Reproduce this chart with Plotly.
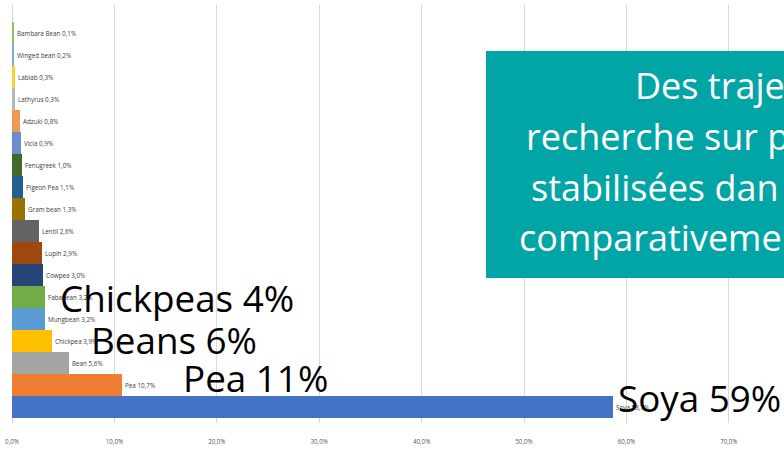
import plotly.graph_objects as go

# Share of research effort by legume crop (%), bottom bar first
crops = ["Soya", "Pea", "Bean", "Chickpea", "Mungbean", "Fababean", "Cowpea",
         "Lupin", "Lentil", "Gram bean", "Pigeon Pea", "Fenugreek", "Vicia",
         "Adzuki", "Lathyrus", "Lablab", "Winged bean", "Bambara Bean"]
shares = [58.7, 10.7, 5.6, 3.9, 3.2, 3.2, 3.0,
          2.9, 2.6, 1.3, 1.1, 1.0, 0.9,
          0.8, 0.3, 0.3, 0.2, 0.1]
colors = ["#4472C4", "#ED7D31", "#A5A5A5", "#FFC000", "#5B9BD5", "#70AD47", "#264478",
          "#9E480E", "#636363", "#997300", "#255E91", "#43682B", "#698ED0",
          "#F1975A", "#B7B7B7", "#FFCD33", "#7CAFDD", "#8BC168"]

tick_vals = [0, 10, 20, 30, 40, 50, 60, 70]
tick_text = [f"{v:.1f}".replace(".", ",") + "%" for v in tick_vals]

# Headline callouts and the text of the teal panel
callouts = ["Chickpeas 4%", "Beans 6%", "Pea 11%", "Soya 59%"]
panel_lines = ["Des traje", "recherche sur p", "stabilisées dan", "comparativeme"]

W, H = 784, 451
ML, MR, MT, MB = 12, 0, 5, 28
PW, PH = W - ML - MR, H - MT - MB


def px(x):
    return (x - ML) / PW


def py(y):
    return (H - MB - y) / PH


labels = [f"{c} {v:.1f}".replace(".", ",") + "%" for c, v in zip(crops, shares)]

fig = go.Figure(go.Bar(
    x=shares, y=crops, orientation="h",
    marker=dict(color=colors, line=dict(width=0)),
    text=labels, textposition="outside", cliponaxis=False,
    constraintext="none",
    outsidetextfont=dict(family="Open Sans", size=6.3, color="#404040"),
    hoverinfo="skip",
))

callout_pos = [(58, 298), (89, 340), (181, 378), (616, 398)]
annotations = []
for txt, (ax, ay) in zip(callouts, callout_pos):
    annotations.append(dict(
        text=txt, xref="paper", yref="paper", x=px(ax), y=py(ay),
        xanchor="left", yanchor="middle", showarrow=False,
        font=dict(family="Open Sans", size=36.8, color="#000000"),
    ))

panel_pos = [(633, 86), (524, 136), (529, 187), (517, 237)]
for txt, (ax, ay) in zip(panel_lines, panel_pos):
    annotations.append(dict(
        text=txt, xref="paper", yref="paper", x=px(ax), y=py(ay),
        xanchor="left", yanchor="middle", showarrow=False,
        font=dict(family="Open Sans", size=36, color="#FFFFFF"),
    ))

fig.update_layout(
    width=W, height=H,
    margin=dict(l=ML, r=MR, t=MT, b=MB, pad=0),
    paper_bgcolor="#FFFFFF", plot_bgcolor="#FFFFFF",
    bargap=0, showlegend=False,
    font=dict(family="Open Sans"),
    xaxis=dict(
        range=[0, (W - ML - MR) / 10.24], tickvals=tick_vals, ticktext=tick_text,
        tickfont=dict(family="Open Sans", size=6.2, color="#595959"),
        showgrid=True, gridcolor="#D9D9D9", gridwidth=1,
        zeroline=True, zerolinecolor="#D9D9D9", zerolinewidth=1,
        showline=False, ticks="", ticklabelstandoff=14,
    ),
    yaxis=dict(
        type="category", range=[-0.727, 18.273],
        showticklabels=False, showgrid=False, zeroline=False, showline=False,
    ),
    shapes=[dict(
        type="rect", xref="paper", yref="paper",
        x0=px(486), x1=px(900), y0=py(278), y1=py(51),
        fillcolor="#02A5A6", line=dict(width=0), layer="above",
    )],
    annotations=annotations,
)

fig.write_html("out.html")
